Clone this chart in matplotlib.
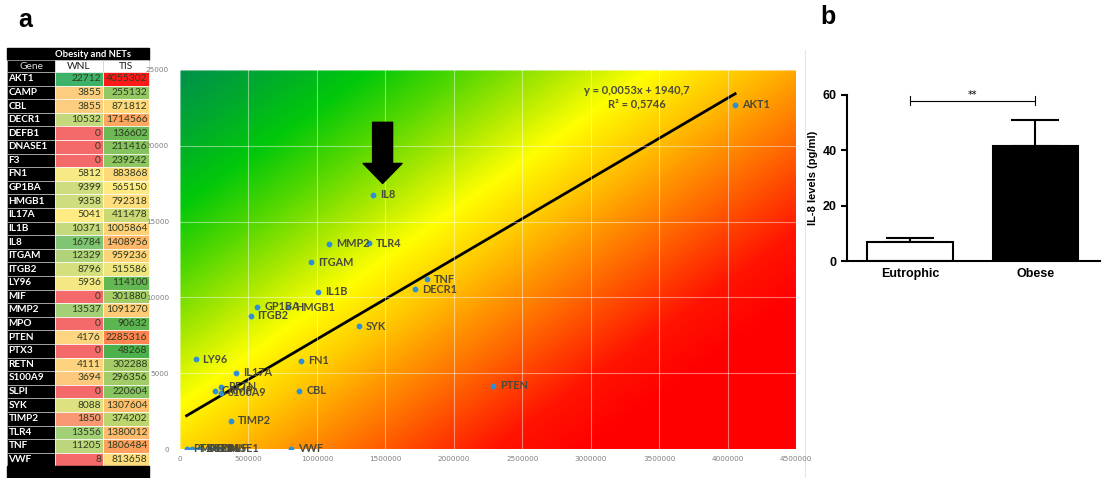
import numpy as np
import matplotlib
matplotlib.use("Agg")
import matplotlib.pyplot as plt
from matplotlib.patches import Rectangle
from matplotlib.lines import Line2D
from matplotlib.colors import LinearSegmentedColormap, to_rgb
from matplotlib.transforms import offset_copy

# table / scatter data (WNL vs TIS)
genes = ["AKT1", "CAMP", "CBL", "DECR1", "DEFB1", "DNASE1", "F3", "FN1", "GP1BA",
         "HMGB1", "IL17A", "IL1B", "IL8", "ITGAM", "ITGB2", "LY96", "MIF", "MMP2",
         "MPO", "PTEN", "PTX3", "RETN", "S100A9", "SLPI", "SYK", "TIMP2", "TLR4",
         "TNF", "VWF"]
wnl = [22712, 3855, 3855, 10532, 0, 0, 0, 5812, 9399, 9358, 5041, 10371, 16784,
       12329, 8796, 5936, 0, 13537, 0, 4176, 0, 4111, 3694, 0, 8088, 1850, 13556,
       11205, 8]
tis = [4055302, 255132, 871812, 1714566, 136602, 211416, 239242, 883868, 565150,
       792318, 411478, 1005864, 1408956, 959236, 515586, 114100, 301880, 1091270,
       90632, 2285316, 48268, 302288, 296356, 220604, 1307604, 374202, 1380012,
       1806484, 813658]

slope = 0.0053
intercept = 1940.7
r2 = 0.5746

# panel b
groups = ["Eutrophic", "Obese"]
il8_mean = [6.9, 41.5]
il8_err = [1.3, 9.6]

W, H = 1102, 478
fig = plt.figure(figsize=(W / 100, H / 100), dpi=100)


def px_axes(x0, y0, x1, y1):
    return fig.add_axes([x0 / W, 1 - y1 / H, (x1 - x0) / W, (y1 - y0) / H])


# ---------- table (drawn first, below the scatter) ----------
tax = fig.add_axes([0, 0, 152 / W, 1])
tax.set_xlim(0, 152)
tax.set_ylim(H, 0)
tax.axis("off")
tax.patch.set_visible(False)
tax.set_zorder(0)


def scale3(vals, lo_c, mid_c, hi_c):
    v = np.array(vals, dtype=float)
    lo, mid, hi = v.min(), np.median(v), v.max()
    out = []
    for x in v:
        if x <= mid:
            t = (x - lo) / (mid - lo)
            a, b = np.array(to_rgb(lo_c)), np.array(to_rgb(mid_c))
        else:
            t = (x - mid) / (hi - mid)
            a, b = np.array(to_rgb(mid_c)), np.array(to_rgb(hi_c))
        out.append(tuple(a + (b - a) * t))
    return out


wnl_c = scale3(wnl, "#f46a6a", "#ffeb84", "#3fb26a")
tis_c = scale3(tis, "#4cb04c", "#ffeb84", "#ff1a1a")

gx, wx, tx, ex = 7, 55, 103, 149
rh = 13.6
top = 72
nfont = dict(family="Lato", fontsize=7.4)
gfont = dict(family="Lato", fontsize=7.2, fontweight="bold")
tax.add_patch(Rectangle((gx, 48), ex - gx, 12, color="black"))
tax.text(93, 54, "Obesity and NETs", color="white", ha="center", va="center",
         family="Lato", fontsize=6.8, fontweight="bold")
tax.add_patch(Rectangle((gx, 60), wx - gx, 12, fc="black", ec="#bfbfbf", lw=0.5))
tax.text((gx + wx) / 2, 66, "Gene", color="#d9d9d9", ha="center", va="center", **nfont)
tax.add_patch(Rectangle((wx, 60), tx - wx, 12, fc="white", ec="#d0d0d0", lw=0.5))
tax.text((wx + tx) / 2, 66, "WNL", color="#202020", ha="center", va="center", **nfont)
tax.add_patch(Rectangle((tx, 60), ex - tx, 12, fc="white", ec="#d0d0d0", lw=0.5))
tax.text((tx + ex) / 2, 66, "TIS", color="#202020", ha="center", va="center", **nfont)

for i, g in enumerate(genes):
    y0 = top + i * rh
    tax.add_patch(Rectangle((gx, y0), wx - gx, rh, fc="black", ec="#bfbfbf", lw=0.5))
    tax.text(gx + 1.5, y0 + rh / 2, g, color="white", ha="left", va="center", **gfont)
    tax.add_patch(Rectangle((wx, y0), tx - wx, rh, fc=wnl_c[i], ec="white", lw=0.5))
    tax.text(tx - 2, y0 + rh / 2, str(wnl[i]), color="#2f3a1f", ha="right",
             va="center", **nfont)
    tax.add_patch(Rectangle((tx, y0), ex - tx, rh, fc=tis_c[i], ec="white", lw=0.5))
    tax.text(ex - 1.5, y0 + rh / 2, str(tis[i]), color="#2f3a1f", ha="right",
             va="center", **nfont)
tax.add_patch(Rectangle((gx, top + len(genes) * rh), ex - gx, H, color="black"))

# ---------- scatter with gradient background ----------
ax = px_axes(180, 70, 796, 449)
ax.set_zorder(2)
ax.set_xlim(0, 4500000)
ax.set_ylim(0, 25000)

stops = [(0.0, (0, 145, 75)), (0.1, (0, 170, 45)), (0.2, (0, 200, 10)),
         (0.3, (80, 215, 0)), (0.4, (170, 232, 0)), (0.5, (255, 255, 0)),
         (0.6, (255, 200, 0)), (0.7, (255, 140, 0)), (0.8, (255, 80, 0)),
         (0.9, (255, 20, 0)), (1.0, (255, 0, 0))]
bg = LinearSegmentedColormap.from_list(
    "bg", [(p, tuple(c / 255 for c in rgb)) for p, rgb in stops])
cols, rows = np.meshgrid(np.arange(616), np.arange(379))
grad = np.clip(cols / 940 + rows / 666, 0, 1)
ax.imshow(grad, cmap=bg, vmin=0, vmax=1, extent=(0, 4500000, 0, 25000),
          aspect="auto", origin="upper", zorder=0, interpolation="bilinear")

xt = np.arange(0, 4500001, 500000)
yt = np.arange(0, 25001, 5000)
ax.set_xticks(xt)
ax.set_yticks(yt)
ax.set_xticklabels([str(int(v)) for v in xt])
ax.set_yticklabels([str(int(v)) for v in yt])
ax.tick_params(length=0, labelsize=5.2, labelcolor="#7f7f7f")
ax.tick_params(axis="y", pad=8)
ax.tick_params(axis="x", pad=5)
ax.grid(True, color="white", alpha=0.45, lw=0.8)
ax.set_axisbelow(False)
for s in ax.spines.values():
    s.set_visible(False)

xs = np.array([min(tis), max(tis)])
ax.plot(xs, slope * xs + intercept, color="black", lw=2, zorder=2)
ax.scatter(tis, wnl, s=10, color="#2e8fd6", zorder=3)
for g, x, y in zip(genes, tis, wnl):
    ax.annotate(g, (x, y), xytext=(5, 0), textcoords="offset points", va="center",
                fontsize=7.8, color="#4a4a3a", fontweight="bold", family="Lato", zorder=4)

ax.text(0.742, 0.928, f"y = 0,0053x + 1940,7\nR² = {str(r2).replace('.', ',')}",
        transform=ax.transAxes, ha="center", va="center", fontsize=8,
        fontweight="bold", color="#4a4a3a", family="Lato", linespacing=1.2)

# arrow pointing to IL8
i8 = genes.index("IL8")
tip = offset_copy(ax.transData, fig=fig, x=7, y=8, units="points")
tail = offset_copy(ax.transData, fig=fig, x=7, y=52, units="points")
ax.annotate("", xy=(tis[i8], wnl[i8]), xycoords=tip,
            xytext=(tis[i8], wnl[i8]), textcoords=tail,
            arrowprops=dict(arrowstyle="simple,head_width=1.4,head_length=0.72,tail_width=0.72",
                            fc="black", ec="black", mutation_scale=20,
                            shrinkA=0, shrinkB=0), zorder=5)

# ---------- panel b ----------
bax = px_axes(847, 95, 1100, 261)
pos = np.arange(len(groups))
bax.bar(pos, il8_mean, width=0.685, color=["white", "black"], edgecolor="black",
        lw=1.5, zorder=2)
bax.errorbar(pos, il8_mean, yerr=[[0, 0], il8_err], fmt="none", ecolor="black",
             elinewidth=1.5, capsize=17, capthick=1.5, zorder=1)
bax.set_xlim(-0.502, 1.514)
bax.set_ylim(0, 60)
bax.set_yticks([0, 20, 40, 60])
bax.set_xticks(pos)
bax.set_xticklabels(groups)
for s in ["top", "right"]:
    bax.spines[s].set_visible(False)
for s in ["left", "bottom"]:
    bax.spines[s].set_linewidth(1.5)
bax.tick_params(width=1.5, length=4)
bax.tick_params(axis="x", length=0, pad=5)
for lab in bax.get_xticklabels() + bax.get_yticklabels():
    lab.set_fontweight("bold")
    lab.set_fontsize(9)
    lab.set_family("Liberation Sans")
bax.set_ylabel("IL-8 levels (pg/ml)", fontsize=8, fontweight="bold",
               family="Liberation Sans", labelpad=3)
# significance bracket
bax.plot(pos, [58, 58], color="black", lw=0.8, clip_on=False)
for p in pos:
    bax.plot([p, p], [56.3, 59.5], color="black", lw=0.8, clip_on=False)
bax.text(0.5, 58.2, "**", ha="center", va="bottom", fontsize=7)

fig.add_artist(Line2D([805 / W] * 2, [0, 1 - 50 / H], color="#e6e6e6", lw=0.8))

fig.text(25 / W, 1 - 20 / H, "a", fontsize=18, fontweight="bold", ha="center",
         va="center", family="Liberation Sans")
fig.text(828 / W, 1 - 17 / H, "b", fontsize=18, fontweight="bold", ha="center",
         va="center", family="Liberation Sans")

fig.savefig("out.png", dpi=100)
